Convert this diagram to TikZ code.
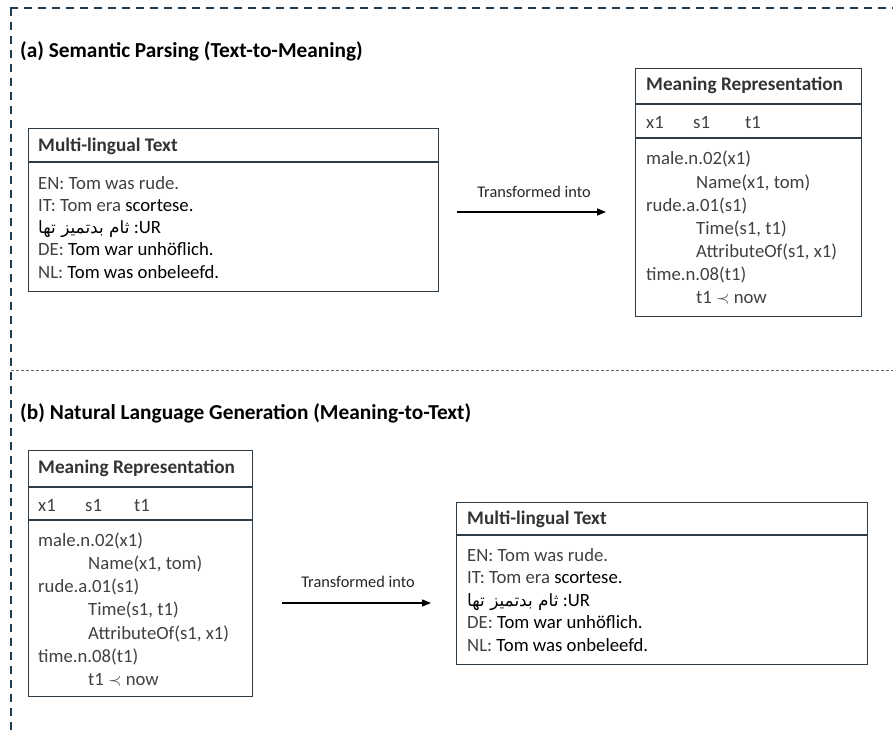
\documentclass[tikz,border=0pt]{standalone}
\usepackage{fontspec}
\setmainfont{Carlito}
\newfontfamily\arabicfont[Script=Arabic]{DejaVu Sans}
\TeXXeTstate=1
\usetikzlibrary{arrows.meta}
\definecolor{txtgray}{HTML}{404040}
\definecolor{boxline}{HTML}{2F3B45}
\definecolor{framecol}{HTML}{1F3B4D}
\definecolor{midcol}{HTML}{5A6B78}
\newcommand{\blk}[1]{{\color{black}#1}}
\newcommand{\urdu}{{\arabicfont\fontsize{17}{20}\selectfont\beginR ثام بدتميز تها\endR}}
\begin{document}
\begin{tikzpicture}[x=1bp,y=-1bp,
  box/.style={draw=boxline, line width=1.2bp, inner sep=0, anchor=north west},
  sep/.style={draw=boxline, line width=1.2bp},
  txt/.style={anchor=base west, inner sep=0, text=txtgray, font=\fontsize{18.8}{22.5}\selectfont},
  hdr/.style={anchor=base west, inner sep=0, text=black!80, font=\fontsize{19.3}{22.5}\selectfont\bfseries},
  ttl/.style={anchor=base west, inner sep=0, text=black, font=\fontsize{21.4}{25}\selectfont\bfseries},
  lbl/.style={inner sep=0, text=black!85, font=\fontsize{16.4}{19}\selectfont},
  arr/.style={-{Triangle[length=9bp,width=7bp]}, line width=1.4bp, black}
]
\useasboundingbox (0,0) rectangle (893,731);
% frame
\draw[framecol, line width=2bp, dash pattern=on 8bp off 6bp] (10,8) -- (893,8);
\draw[framecol, line width=2bp, dash pattern=on 8bp off 6bp] (11,8) -- (11,731);
\draw[midcol, line width=0.9bp, dash pattern=on 3bp off 2bp] (11,370) -- (893,370);

% titles
\node[ttl] (ta) at (20,58) {(a) Semantic Parsing (Text-to-Meaning)};
\node[ttl] (tb) at (20,419) {(b) Natural Language Generation (Meaning-to-Text)};

% ---- (a) multilingual box
\node[box, minimum width=410bp, minimum height=163bp] (mlA) at (28,128) {};
\draw[sep] ([yshift=-34bp]mlA.north west) -- ([yshift=-34bp]mlA.north east);
\node[hdr] (mlAh) at (38,152) {Multi-lingual Text};
\node[txt] (mlA1) at (38,189) {EN: Tom was rude.};
\node[txt] (mlA2) at (38,211.3) {IT: Tom era \blk{scortese.}};
\node[txt] (mlA3) at (38,233.6) {\blk{\urdu\ :UR}};
\node[txt] (mlA4) at (38,255.9) {DE: \blk{Tom war unhöflich.}};
\node[txt] (mlA5) at (38,278.2) {NL: \blk{Tom was onbeleefd.}};

% arrow a
\coordinate (a1s) at (457,212);
\coordinate (a1e) at (606,212);
\draw[arr] (a1s) -- (a1e);
\node[lbl] (la) at (534,192) {Transformed into};

% ---- (a) meaning representation
\node[box, minimum width=226bp, minimum height=248bp] (mrA) at (635,68) {};
\draw[sep] ([yshift=-36bp]mrA.north west) -- ([yshift=-36bp]mrA.north east);
\draw[sep] ([yshift=-70bp]mrA.north west) -- ([yshift=-70bp]mrA.north east);
\node[hdr] (mrAh) at (646,91) {Meaning Representation};
\node[txt] (mrAx) at (646,129) {x1};
\node[txt] (mrAs) at (693,129) {s1};
\node[txt] (mrAt) at (745,129) {t1};
\node[txt] (mrA1) at (646,165) {male.n.02(x1)};
\node[txt] (mrA2) at (696,188) {Name(x1, tom)};
\node[txt] (mrA3) at (646,211) {rude.a.01(s1)};
\node[txt] (mrA4) at (696,234) {Time(s1, t1)};
\node[txt] (mrA5) at (696,257) {AttributeOf(s1, x1)};
\node[txt] (mrA6) at (646,280) {time.n.08(t1)};
\node[txt] (mrA7) at (696,303) {t1 $\prec$ now};

% ---- (b) meaning representation
\node[box, minimum width=224bp, minimum height=246bp] (mrB) at (28,450) {};
\draw[sep] ([yshift=-37bp]mrB.north west) -- ([yshift=-37bp]mrB.north east);
\draw[sep] ([yshift=-70bp]mrB.north west) -- ([yshift=-70bp]mrB.north east);
\node[hdr] (mrBh) at (38,473) {Meaning Representation};
\node[txt] (mrBx) at (38,511) {x1};
\node[txt] (mrBs) at (85,511) {s1};
\node[txt] (mrBt) at (134,511) {t1};
\node[txt] (mrB1) at (38,546) {male.n.02(x1)};
\node[txt] (mrB2) at (88,569.3) {Name(x1, tom)};
\node[txt] (mrB3) at (38,592.6) {rude.a.01(s1)};
\node[txt] (mrB4) at (88,615.9) {Time(s1, t1)};
\node[txt] (mrB5) at (88,639.2) {AttributeOf(s1, x1)};
\node[txt] (mrB6) at (38,662.5) {time.n.08(t1)};
\node[txt] (mrB7) at (88,685.8) {t1 $\prec$ now};

% arrow b
\coordinate (a2s) at (282,603);
\coordinate (a2e) at (431,603);
\draw[arr] (a2s) -- (a2e);
\node[lbl] (lb) at (358,582) {Transformed into};

% ---- (b) multilingual box
\node[box, minimum width=411bp, minimum height=162bp] (mlB) at (456,502) {};
\draw[sep] ([yshift=-33bp]mlB.north west) -- ([yshift=-33bp]mlB.north east);
\node[hdr] (mlBh) at (467,524) {Multi-lingual Text};
\node[txt] (mlB1) at (467,561) {EN: Tom was rude.};
\node[txt] (mlB2) at (467,583.5) {IT: Tom era \blk{scortese.}};
\node[txt] (mlB3) at (467,606) {\blk{\urdu\ :UR}};
\node[txt] (mlB4) at (467,628.5) {DE: \blk{Tom war unhöflich.}};
\node[txt] (mlB5) at (467,651) {NL: \blk{Tom was onbeleefd.}};
\end{tikzpicture}
\end{document}
